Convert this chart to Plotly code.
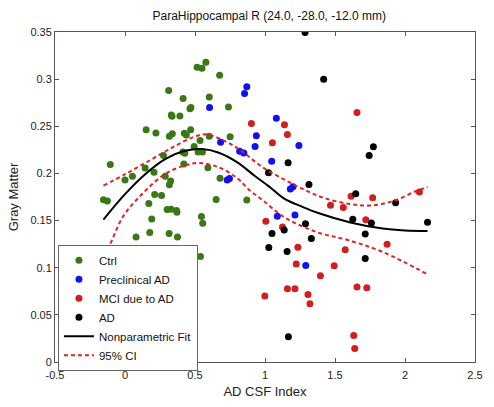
import plotly.graph_objects as go

# ---- data ----
ctrl_x = [0.578, 0.515, 0.550, 0.676, 0.312, 0.415, 0.602, 0.739, 0.471, 0.464,
          0.331, 0.336, 0.392, 0.151, 0.221, 0.469, 0.424, 0.438, 0.338, 0.317,
          0.602, 0.751, 0.536, 0.494, 0.275, 0.413, 0.427, 0.522, 0.553, 0.420,
          0.144, 0.207, 0.592, -0.105, 0.053, 0.287, 0.000, 0.326, 0.317, 0.679,
          -0.154, -0.126, 0.212, 0.261, 0.170, 0.651, 0.301, 0.329, 0.368, 0.371,
          0.191, 0.546, 0.555, 0.177, 0.315, 0.079, 0.375, 0.539, 0.870]
ctrl_y = [0.318, 0.3126, 0.3115, 0.304, 0.288, 0.2796, 0.281, 0.2705, 0.270, 0.2685,
          0.262, 0.2606, 0.261, 0.2463, 0.243, 0.2463, 0.2425, 0.2408, 0.2421, 0.2393,
          0.2393, 0.239, 0.235, 0.2286, 0.219, 0.2227, 0.2213, 0.2227, 0.2227, 0.210,
          0.2057, 0.2012, 0.206, 0.2096, 0.197, 0.197, 0.193, 0.192, 0.188, 0.195,
          0.172, 0.1707, 0.1776, 0.1766, 0.168, 0.1724, 0.1617, 0.162, 0.1607, 0.1589,
          0.1516, 0.1544, 0.1471, 0.1374, 0.1363, 0.1326, 0.1326, 0.112, 0.1717]

pre_x = [0.604, 0.683, 0.730, 0.746, 0.870, 0.854, 1.081, 0.938, 0.929, 1.242,
         0.819, 0.849, 1.048, 1.181, 1.200, 1.088, 1.214, 1.291]
pre_y = [0.270, 0.2331, 0.1929, 0.1946, 0.292, 0.2848, 0.2585, 0.240, 0.2286, 0.2297,
         0.2234, 0.2216, 0.213, 0.1836, 0.186, 0.1547, 0.1558, 0.1024]

mci_x = [1.657, 0.903, 1.139, 1.160, 1.053, 1.615, 1.769, 1.468, 1.559, 2.103,
         1.720, 1.006, 1.125, 1.235, 1.573, 1.872, 1.223, 1.494, 1.396, 1.657,
         1.727, 1.160, 1.214, 0.999, 1.307, 1.321, 1.634, 1.641]
mci_y = [0.2647, 0.2529, 0.2515, 0.2414, 0.2325, 0.1759, 0.1742, 0.1662, 0.1638, 0.1804,
         0.1509, 0.1492, 0.1433, 0.1217, 0.119, 0.1249, 0.104, 0.102, 0.0916, 0.0795,
         0.0788, 0.0777, 0.0777, 0.0701, 0.0715, 0.0618, 0.0281, 0.0143]

ad_x = [1.286, 1.419, 1.774, 1.744, 1.165, 1.025, 1.314, 1.648, 1.933, 1.627,
        1.760, 2.161, 1.289, 1.050, 1.137, 1.331, 1.716, 1.027, 1.158, 1.716, 1.167]
ad_y = [0.3496, 0.300, 0.2283, 0.219, 0.2112, 0.2008, 0.1883, 0.1784, 0.169, 0.1513,
        0.1474, 0.1482, 0.1467, 0.1363, 0.1399, 0.1311, 0.1357, 0.1214, 0.1173, 0.1097, 0.0267]

fit_x = [-0.154, 0.0, 0.15, 0.29, 0.43, 0.55, 0.67, 0.80, 0.93, 1.03, 1.14, 1.26,
         1.38, 1.61, 1.84, 2.0, 2.161]
fit_y = [0.151, 0.178, 0.200, 0.2155, 0.224, 0.2258, 0.222, 0.212, 0.197, 0.186, 0.173,
         0.165, 0.158, 0.148, 0.1415, 0.1395, 0.139]

ci_up_x = [-0.154, 0.01, 0.175, 0.34, 0.48, 0.58, 0.71, 0.83, 0.98, 1.144, 1.284,
           1.424, 1.61, 1.751, 1.914, 2.077, 2.161]
ci_up_y = [0.187, 0.1998, 0.2137, 0.2276, 0.238, 0.2414, 0.2345, 0.2241, 0.2068, 0.193,
           0.1825, 0.1738, 0.1675, 0.1659, 0.1706, 0.1811, 0.1856]

ci_lo_x = [-0.154, -0.117, -0.012, 0.128, 0.29, 0.43, 0.525, 0.665, 0.805, 0.887,
           0.98, 1.144, 1.377, 1.60, 1.844, 2.161]
ci_lo_y = [0.113, 0.1217, 0.1547, 0.179, 0.1998, 0.2085, 0.211, 0.2068, 0.1946, 0.1825,
           0.172, 0.153, 0.1374, 0.129, 0.1165, 0.093]

x_ticks = [-0.5, 0, 0.5, 1, 1.5, 2, 2.5]
x_ticktext = ["-0.5", "0", "0.5", "1", "1.5", "2", "2.5"]
y_ticks = [0, 0.05, 0.1, 0.15, 0.2, 0.25, 0.3, 0.35]
y_ticktext = ["0", "0.05", "0.1", "0.15", "0.2", "0.25", "0.3", "0.35"]

FONT = "Liberation Sans, Arial, sans-serif"
GREEN = "#3a7716"
BLUE = "#1010f5"
RED = "#d21e1e"
BLACK = "#000000"

fig = go.Figure()
for name, xs, ys, col in [("Ctrl", ctrl_x, ctrl_y, GREEN),
                          ("Preclinical AD", pre_x, pre_y, BLUE),
                          ("MCI due to AD", mci_x, mci_y, RED),
                          ("AD", ad_x, ad_y, BLACK)]:
    fig.add_trace(go.Scatter(x=xs, y=ys, mode="markers", name=name,
                             marker=dict(color=col, size=7, line=dict(width=0))))

fig.add_trace(go.Scatter(x=fit_x, y=fit_y, mode="lines", name="Nonparametric Fit",
                         line=dict(color="black", width=2, shape="spline")))
fig.add_trace(go.Scatter(x=ci_up_x, y=ci_up_y, mode="lines", name="95% CI",
                         legendgroup="ci",
                         line=dict(color="#e02424", width=2, dash="4px,3px", shape="spline")))
fig.add_trace(go.Scatter(x=ci_lo_x, y=ci_lo_y, mode="lines", name="95% CI",
                         legendgroup="ci", showlegend=False,
                         line=dict(color="#e02424", width=2, dash="4px,3px", shape="spline")))

axis_common = dict(showline=True, linecolor="#555555", linewidth=1, mirror="ticks",
                   ticks="inside", ticklen=4, tickcolor="#555555", showgrid=False,
                   zeroline=False, tickfont=dict(family=FONT, size=11, color="#222222"))

fig.update_layout(
    width=494, height=407,
    margin=dict(l=55, r=11, t=32, b=38),
    paper_bgcolor="white", plot_bgcolor="white",
    font=dict(family=FONT, color="#222222"),
    title=dict(text="ParaHippocampal R (24.0, -28.0, -12.0 mm)", x=0.545, xanchor="center",
               y=1 - 16 / 407, yanchor="middle",
               font=dict(family=FONT, size=12, color="#111111")),
    xaxis=dict(range=[-0.5, 2.5], tickvals=x_ticks, ticktext=x_ticktext,
               ticklabelstandoff=3,
               title=dict(text="AD CSF Index", font=dict(family=FONT, size=13), standoff=6),
               **axis_common),
    yaxis=dict(range=[0, 0.35], tickvals=y_ticks, ticktext=y_ticktext,
               title=dict(text="Gray Matter", font=dict(family=FONT, size=13), standoff=8),
               **axis_common),
    legend=dict(x=0.007, y=0.355, xanchor="left", yanchor="top",
                bgcolor="white", bordercolor="#666666", borderwidth=1,
                font=dict(family=FONT, size=11.5, color="#111111"),
                tracegroupgap=0, itemwidth=30),
    showlegend=True,
)

fig.write_html("out.html")
